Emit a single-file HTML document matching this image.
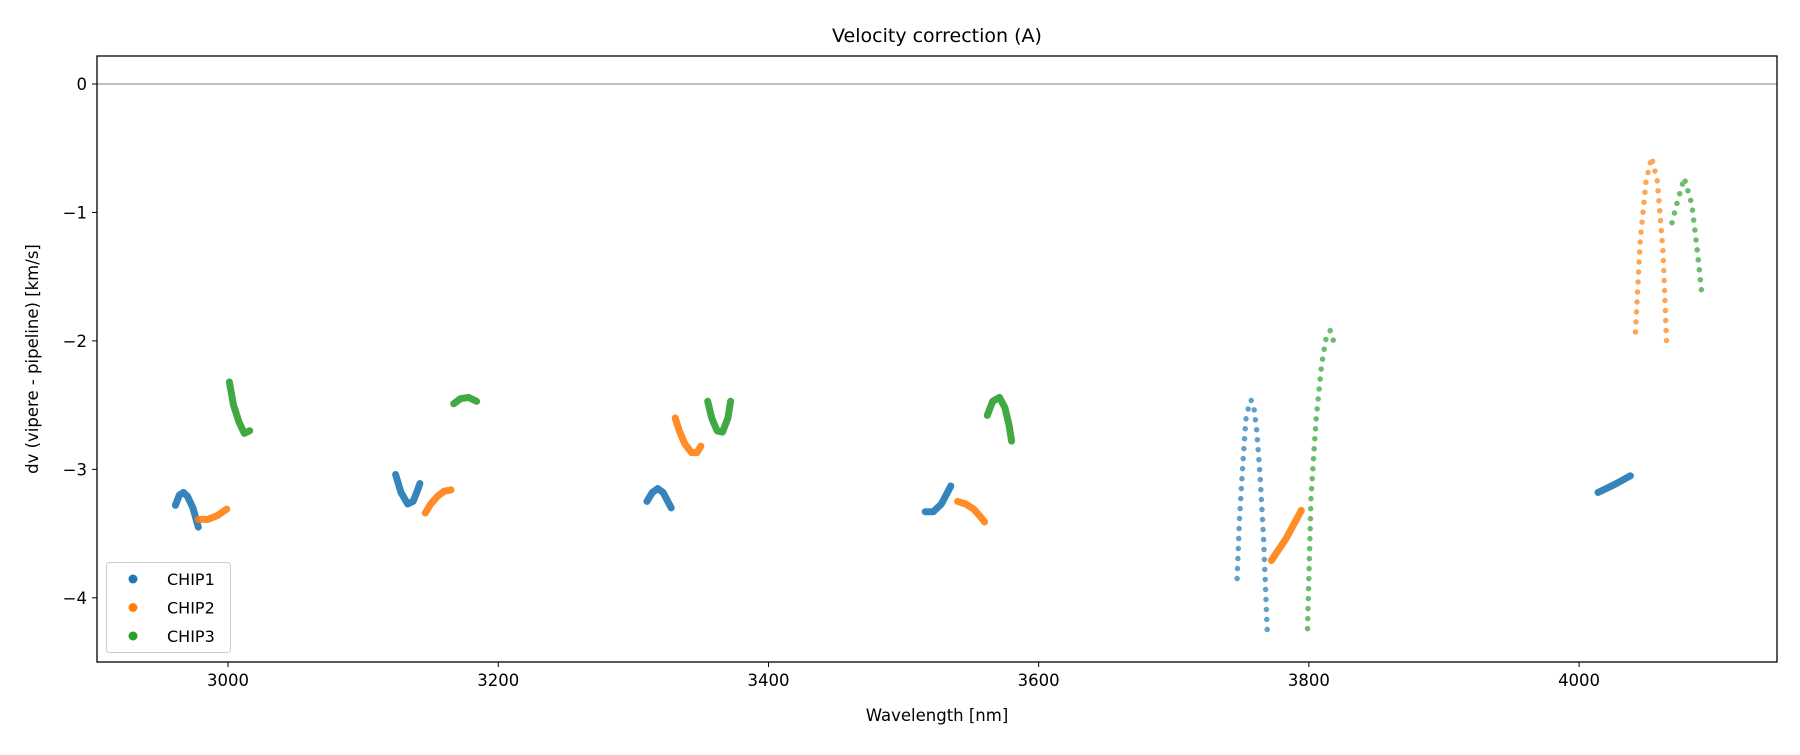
<!DOCTYPE html>
<html><head><meta charset="utf-8"><style>
html,body{margin:0;padding:0;background:#fff;}
svg text{font-family:"DejaVu Sans","Liberation Sans",sans-serif;fill:#000;}
</style></head><body>
<svg id="chart" width="1800" height="750" viewBox="0 0 1800 750" xmlns="http://www.w3.org/2000/svg">
<rect width="1800" height="750" fill="#fff"/>
<text x="937" y="42" font-size="19" text-anchor="middle">Velocity correction (A)</text>
<g id="plot"></g>
<text x="937" y="721" font-size="16.5" text-anchor="middle">Wavelength [nm]</text>
<text transform="translate(38,359) rotate(-90)" font-size="16.5" text-anchor="middle">dv (vipere - pipeline) [km/s]</text>
</svg>
<script>
const xTicks = [3000, 3200, 3400, 3600, 3800, 4000];
const yTicks = [0, -1, -2, -3, -4];
const yTickLabels = ["0", "−1", "−2", "−3", "−4"];
const seriesNames = ["CHIP1", "CHIP2", "CHIP3"];
const seriesColors = ["#1f77b4", "#ff7f0e", "#2ca02c"];
const chip1Segments = [
 {sparse:false, pts:[[2961,-3.28],[2964,-3.2],[2967,-3.18],[2970,-3.21],[2974,-3.3],[2978,-3.45]]},
 {sparse:false, pts:[[3124,-3.04],[3128,-3.18],[3133,-3.27],[3137,-3.25],[3140,-3.17],[3142,-3.11]]},
 {sparse:false, pts:[[3310,-3.25],[3314,-3.18],[3318,-3.15],[3322,-3.18],[3328,-3.3]]},
 {sparse:false, pts:[[3516,-3.33],[3522,-3.33],[3528,-3.27],[3535,-3.13]]},
 {sparse:true, pts:[[3746.9,-3.85],[3748.6,-3.40],[3751.2,-2.95],[3753.4,-2.61],[3755.7,-2.50],[3757.2,-2.46],[3759.1,-2.50],[3761.3,-2.69],[3763.9,-3.05],[3766.4,-3.53],[3769.3,-4.29]]},
 {sparse:false, pts:[[4014,-3.18],[4026,-3.12],[4038,-3.05]]}
];
const chip2Segments = [
 {sparse:false, pts:[[2978,-3.39],[2985,-3.39],[2992,-3.36],[2999,-3.31]]},
 {sparse:false, pts:[[3146,-3.34],[3150,-3.27],[3155,-3.21],[3160,-3.17],[3165,-3.16]]},
 {sparse:false, pts:[[3331,-2.6],[3334,-2.7],[3338,-2.8],[3343,-2.87],[3347,-2.87],[3350,-2.82]]},
 {sparse:false, pts:[[3540,-3.25],[3546,-3.27],[3552,-3.31],[3557,-3.37],[3560,-3.41]]},
 {sparse:false, pts:[[3772.3,-3.71],[3783.1,-3.54],[3794.4,-3.32]]},
 {sparse:true, pts:[[4041.8,-1.93],[4045.1,-1.24],[4049.5,-0.76],[4053.7,-0.57],[4058,-0.76],[4062.2,-1.32],[4064.8,-2.01]]}
];
const chip3Segments = [
 {sparse:false, pts:[[3001,-2.32],[3004,-2.5],[3008,-2.63],[3012,-2.72],[3016,-2.7]]},
 {sparse:false, pts:[[3167,-2.49],[3172,-2.45],[3178,-2.44],[3184,-2.47]]},
 {sparse:false, pts:[[3355,-2.47],[3358,-2.6],[3362,-2.7],[3366,-2.71],[3370,-2.6],[3372,-2.47]]},
 {sparse:false, pts:[[3562,-2.58],[3566,-2.47],[3571,-2.44],[3575,-2.52],[3578,-2.65],[3580,-2.78]]},
 {sparse:true, pts:[[3799,-4.24],[3801.6,-3.22],[3805.3,-2.62],[3809.5,-2.18],[3812.9,-1.97],[3815.8,-1.92],[3819.7,-2.05]]},
 {sparse:true, pts:[[4068.8,-1.08],[4072.2,-0.94],[4077.8,-0.73],[4083.5,-0.94],[4087.7,-1.32],[4091.2,-1.67]]}
];
const allSeries = [chip1Segments, chip2Segments, chip3Segments];

const L=97, R=1777, T=56, B=662;
const xMin=2903, xMax=4146.5, yMin=-4.5, yMax=0.218;
const sx = v => L + (v-xMin)/(xMax-xMin)*(R-L);
const sy = v => B - (v-yMin)/(yMax-yMin)*(B-T);
const NS="http://www.w3.org/2000/svg";
const g=document.getElementById('plot');
function mk(tag, attrs, parent){const e=document.createElementNS(NS,tag);for(const k in attrs)e.setAttribute(k,attrs[k]);(parent||g).appendChild(e);return e;}

const zl=mk('line',{x1:L,x2:R,y1:sy(0),y2:sy(0),stroke:'#555','stroke-width':0.8});



allSeries.forEach((segs,si)=>{
  const sg=mk('g',{});
  
  
  segs.forEach((s,i)=>{
    const d=s.pts.map(p=>sx(p[0]).toFixed(1)+','+sy(p[1]).toFixed(1)).join(' ');
    const pl=mk('polyline',{points:d,fill:'none',stroke:seriesColors[si],'stroke-linecap':'round','stroke-linejoin':'round',
      'stroke-width':s.sparse?5.5:7,'stroke-opacity':s.sparse?0.7:0.9,'stroke-dasharray':s.sparse?'0 10':'none'},sg);
    
    
  });
});

const frame=mk('rect',{x:L,y:T,width:R-L,height:B-T,fill:'none',stroke:'#000','stroke-width':1.3});



xTicks.forEach(v=>{
  const t=mk('line',{x1:sx(v),x2:sx(v),y1:B,y2:B+5,stroke:'#000','stroke-width':1});
  
  
  const tx=mk('text',{x:sx(v),y:B+24,'font-size':16.5,'text-anchor':'middle'});
  tx.textContent=v;
  
  
});
yTicks.forEach((v,i)=>{
  const t=mk('line',{x1:L-5,x2:L,y1:sy(v),y2:sy(v),stroke:'#000','stroke-width':1});
  
  
  const tx=mk('text',{x:L-10,y:sy(v)+6,'font-size':16.5,'text-anchor':'end'});
  tx.textContent=yTickLabels[i];
  
  
});

const lg=mk('g',{});


mk('rect',{x:106.5,y:562.5,width:124,height:90,rx:3,fill:'#fff','fill-opacity':0.8,stroke:'#ccc','stroke-width':1},lg);
seriesNames.forEach((n,i)=>{
  const y=579+i*28.5;
  const e=mk('g',{},lg);
  
  
  mk('circle',{cx:133,cy:y,r:4.5,fill:seriesColors[i]},e);
  const t=mk('text',{x:167,y:y+6,'font-size':16},e);
  t.textContent=n;
});
</script>
</body></html>
